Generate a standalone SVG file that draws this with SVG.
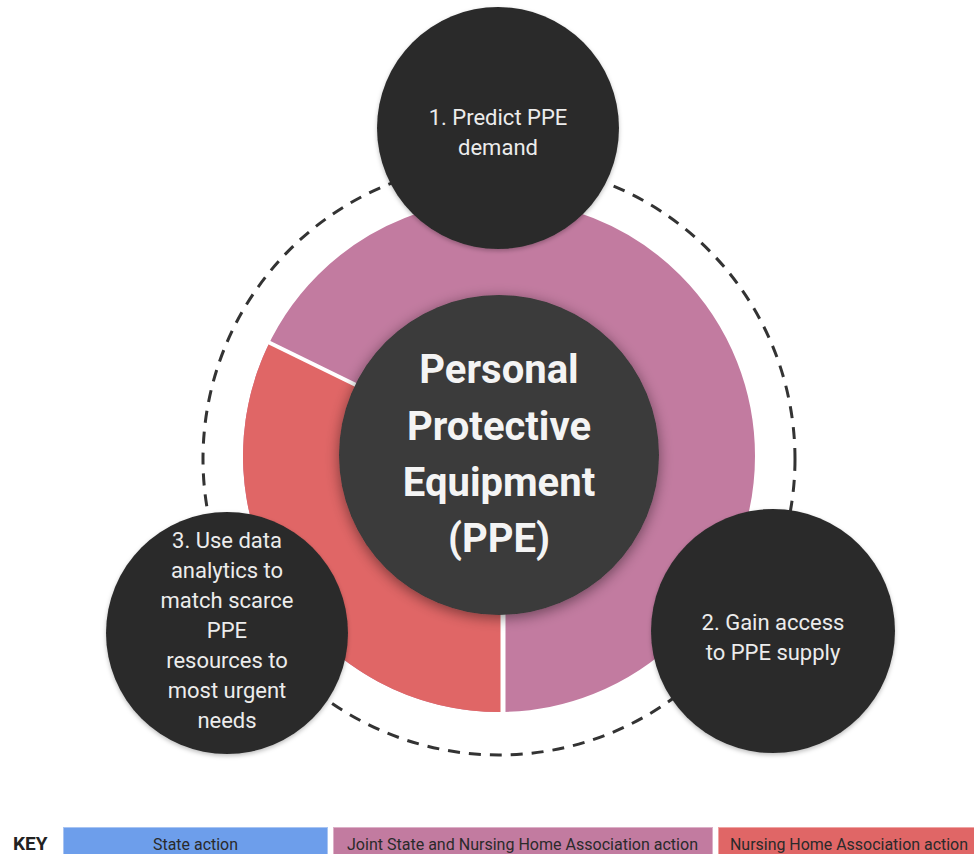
<svg xmlns="http://www.w3.org/2000/svg" width="974" height="854" viewBox="0 0 974 854">
<defs>
<style>
.step{fill:#2b2b2b}
.stxt{font-family:Roboto,"Liberation Sans",sans-serif;font-size:22px;fill:#ececec;text-anchor:middle}
.ctxt{font-family:Roboto,"Liberation Sans",sans-serif;font-size:40px;font-weight:bold;fill:#f4f4f4;text-anchor:middle}
.ktxt{font-family:Roboto,"Liberation Sans",sans-serif;font-size:16px;fill:#2a2a2a;text-anchor:middle}
</style>
<filter id="sh" x="-30%" y="-30%" width="160%" height="160%">
<feDropShadow dx="0" dy="3" stdDeviation="7" flood-color="#000" flood-opacity="0.45"/>
</filter>
<filter id="sh2" x="-20%" y="-20%" width="140%" height="140%">
<feDropShadow dx="0" dy="2" stdDeviation="2" flood-color="#000" flood-opacity="0.25"/>
</filter>
</defs>
<rect width="974" height="854" fill="#ffffff"/>
<g id="connectors">
<circle cx="499" cy="459" r="296" fill="none" stroke="#333333" stroke-width="3" stroke-dasharray="12 9"/>
</g>
<g id="ring">
<circle cx="499" cy="456" r="203" fill="none" stroke="#c27ba0" stroke-width="106"/>
<path d="M503 712 A256 256 0 0 1 269.5 342.6 L364.5 389.5 A150 150 0 0 0 501.3 606 Z" fill="#e06666"/>
<line x1="503" y1="612" x2="503" y2="716" stroke="#ffffff" stroke-width="5"/>
<line x1="360" y1="387" x2="266" y2="341" stroke="#ffffff" stroke-width="4"/>
</g>
<g id="center">
<circle cx="499" cy="455" r="160" fill="#3a3a3a" filter="url(#sh)"/>
<text class="ctxt" x="499" y="383">Personal</text>
<text class="ctxt" x="499" y="440">Protective</text>
<text class="ctxt" x="499" y="496">Equipment</text>
<text class="ctxt" x="499" y="552">(PPE)</text>
</g>
<g id="step1">
<circle class="step" cx="498" cy="128" r="121" filter="url(#sh2)"/>
<text class="stxt" x="498" y="125">1. Predict PPE</text>
<text class="stxt" x="498" y="155">demand</text>
</g>
<g id="step2">
<circle class="step" cx="773" cy="631" r="122" filter="url(#sh2)"/>
<text class="stxt" x="773" y="630">2. Gain access</text>
<text class="stxt" x="773" y="660">to PPE supply</text>
</g>
<g id="step3">
<circle class="step" cx="227" cy="633" r="121" filter="url(#sh2)"/>
<text class="stxt" x="227" y="548">3. Use data</text>
<text class="stxt" x="227" y="578">analytics to</text>
<text class="stxt" x="227" y="608">match scarce</text>
<text class="stxt" x="227" y="638">PPE</text>
<text class="stxt" x="227" y="668">resources to</text>
<text class="stxt" x="227" y="698">most urgent</text>
<text class="stxt" x="227" y="728">needs</text>
</g>
<g id="key">
<text x="13" y="850" font-family="Roboto,'Liberation Sans',sans-serif" font-size="19" font-weight="bold" fill="#222222">KEY</text>
<rect x="63.5" y="827.5" width="264" height="30" fill="#6d9eeb" stroke="#a8c4f2" stroke-width="1"/>
<text class="ktxt" x="195.5" y="850" textLength="85" lengthAdjust="spacingAndGlyphs">State action</text>
<rect x="333.5" y="827.5" width="379" height="30" fill="#c27ba0" stroke="#dcb0c7" stroke-width="1"/>
<text class="ktxt" x="522.5" y="850" textLength="351" lengthAdjust="spacingAndGlyphs">Joint State and Nursing Home Association action</text>
<rect x="718.5" y="827.5" width="262" height="30" fill="#e06666" stroke="#efa4a4" stroke-width="1"/>
<text class="ktxt" x="849" y="850" textLength="238" lengthAdjust="spacingAndGlyphs">Nursing Home Association action</text>
</g>
</svg>
